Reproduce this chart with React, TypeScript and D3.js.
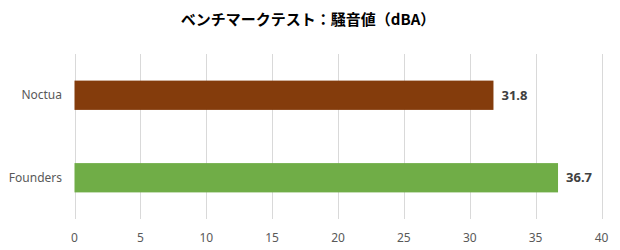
import React from "react";
import * as d3 from "d3";

const title = "ベンチマークテスト：騒音値（dBA）";
const categories = ["Noctua", "Founders"];
const values = [31.8, 36.7];
const colors = ["#843C0C", "#70AD47"];
const ticks = [0, 5, 10, 15, 20, 25, 30, 35, 40];

export default function App() {
  const W = 620, H = 250;
  const x = d3.scaleLinear().domain([0, 40]).range([74.5, 601.5]);
  const y = d3.scaleBand().domain(categories).range([54, 219]).paddingInner(0.645).paddingOuter(0.3225);
  const font = "'Noto Sans', 'DejaVu Sans', sans-serif";
  return (
    <svg width={W} height={H} style={{ position: "absolute", left: 0, top: 0, background: "#fff" }}>
      <text x={308} y={25} textAnchor="middle" fontFamily="'Noto Sans CJK JP', sans-serif" fontWeight="bold" fontSize={15} fill="#000">{title}</text>
      {ticks.map((t) => (
        <g key={t}>
          <line x1={Math.round(x(t)) + 0.5} x2={Math.round(x(t)) + 0.5} y1={54} y2={219} stroke="#D9D9D9" strokeWidth={1} />
          <text x={x(t)} y={242} textAnchor="middle" fontFamily={font} fontSize={12} fill="#595959">{t}</text>
        </g>
      ))}
      {categories.map((c, i) => (
        <g key={c}>
          <rect x={x(0)} y={y(c)} width={x(values[i]) - x(0)} height={y.bandwidth()} fill={colors[i]} />
          <text x={62} y={(y(c) as number) + y.bandwidth() / 2} dy="0.35em" textAnchor="end" fontFamily={font} fontSize={12} fill="#595959">{c}</text>
          <text x={x(values[i]) + 8} y={(y(c) as number) + y.bandwidth() / 2} dy="0.35em" textAnchor="start" fontFamily={font} fontWeight="bold" fontSize={13} fill="#404040">{values[i].toFixed(1)}</text>
        </g>
      ))}
    </svg>
  );
}
